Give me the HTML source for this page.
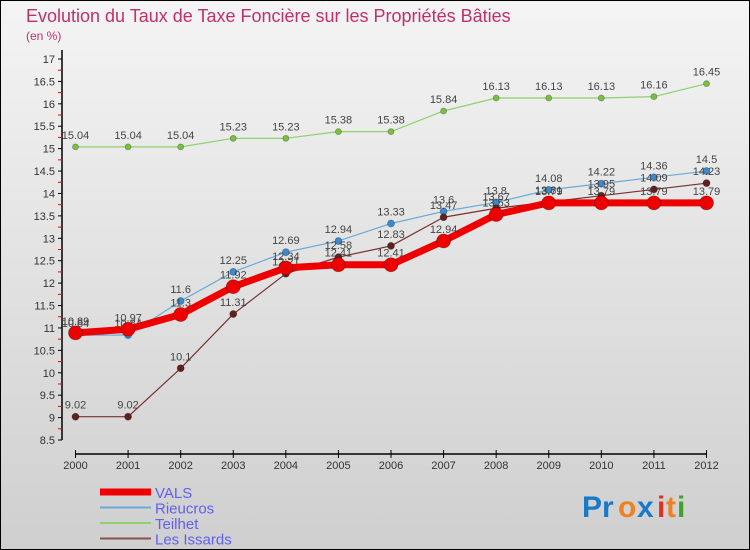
<!DOCTYPE html>
<html><head><meta charset="utf-8"><style>
body{margin:0;width:750px;height:550px;overflow:hidden}
svg{display:block;font-family:"Liberation Sans",sans-serif}
</style></head><body>
<svg id="c" width="750" height="550" xmlns="http://www.w3.org/2000/svg">
<defs><linearGradient id="bg" x1="0" y1="0" x2="0" y2="1"><stop offset="0" stop-color="#f4f4f4"/><stop offset="1" stop-color="#cfcfcf"/></linearGradient></defs>
<rect x="0.5" y="0.5" width="749" height="549" fill="url(#bg)" stroke="#000"/>
<text x="26" y="22" font-size="18" fill="#c0306a">Evolution du Taux de Taxe Foncière sur les Propriétés Bâties</text>
<text x="26" y="40" font-size="12" fill="#c0306a">(en %)</text>
<g id="axes"></g><g id="series"></g><g id="legend"></g>
<g font-size="30" font-weight="bold">
<text x="582" y="517" fill="#1a7ac8">Pr</text><text x="618" y="517" fill="#f08020">o</text><text x="637" y="517" fill="#1a7ac8">x</text><text x="657" y="517" fill="#e03020">i</text><text x="666" y="517" fill="#f08020">t</text><text x="677" y="517" fill="#40a030">i</text>
</g>
</svg>
<script>
const years=[2000,2001,2002,2003,2004,2005,2006,2007,2008,2009,2010,2011,2012];
const vals=[10.89,10.97,11.3,11.92,12.34,12.41,12.41,12.94,13.53,13.79,13.79,13.79,13.79];
const rieucros=[10.84,10.84,11.6,12.25,12.69,12.94,13.33,13.6,13.8,14.08,14.22,14.36,14.5];
const teilhet=[15.04,15.04,15.04,15.23,15.23,15.38,15.38,15.84,16.13,16.13,16.13,16.16,16.45];
const issards=[9.02,9.02,10.1,11.31,12.21,12.58,12.83,13.47,13.67,13.81,13.95,14.09,14.23];
const yTicks=[8.5,9,9.5,10,10.5,11,11.5,12,12.5,13,13.5,14,14.5,15,15.5,16,16.5,17];
const NS="http://www.w3.org/2000/svg";
const X=i=>75.5+i*(631/12);
const Y=v=>440-(v-8.5)*(381/8.5);
function mk(p,t,a){const e=document.createElementNS(NS,t);for(const k in a)e.setAttribute(k,a[k]);p.appendChild(e);return e;}
const ax=document.getElementById('axes');
let l=mk(ax,'line',{x1:62,y1:50,x2:62,y2:440,stroke:'#000','stroke-width':1.5});


l=mk(ax,'line',{x1:75,y1:454,x2:707,y2:454,stroke:'#000','stroke-width':1.5});


yTicks.forEach(v=>{
 mk(ax,'line',{x1:58,y1:Y(v),x2:62,y2:Y(v),stroke:'#000'});
 mk(ax,'line',{x1:58,y1:Y(v+0.25),x2:62,y2:Y(v+0.25),stroke:v<17?'#e00':'none'});
 const t=mk(ax,'text',{x:55,y:Y(v)+4,'text-anchor':'end','font-size':11,fill:'#333'});t.textContent=v;
 
 
});
years.forEach((y,i)=>{
 mk(ax,'line',{x1:X(i),y1:450,x2:X(i),y2:458,stroke:'#000'});
 const t=mk(ax,'text',{x:X(i),y:469,'text-anchor':'middle','font-size':11,fill:'#333'});t.textContent=y;
 
 
});
const sg=document.getElementById('series');
function series(name,data,color,w,r,dot){
 const g=mk(sg,'g',{});
 
 
 mk(g,'polyline',{points:data.map((v,i)=>X(i)+','+Y(v)).join(' '),fill:'none',stroke:color,'stroke-width':w,'stroke-linejoin':'round'});
 data.forEach((v,i)=>{
  const c=mk(g,'circle',{cx:X(i),cy:Y(v),r:r,fill:dot,stroke:'rgba(0,0,0,0.3)','stroke-width':0.8});
  
  
  const t=mk(g,'text',{x:X(i),y:Y(v)-8,'text-anchor':'middle','font-size':11,fill:'#444'});t.textContent=v;
  
  
 });
}
series('teilhet',teilhet,'#90d070',1.2,3,'#7ac040');
series('rieucros',rieucros,'#6aaad8',1.2,3.5,'#3a8ad0');
series('issards',issards,'#7a3030',1.2,3.5,'#602020');
series('vals',vals,'#ee0000',7,7,'#ee0000');
const lg=document.getElementById('legend');
const items=[['VALS','#ee0000',7],['Rieucros','#6aaad8',2],['Teilhet','#90d070',2],['Les Issards','#8a5050',2]];
items.forEach((it,i)=>{
 const y=492+i*15.5;
 const g=mk(lg,'g',{});
 
 
 mk(g,'line',{x1:100,y1:y,x2:151,y2:y,stroke:it[1],'stroke-width':it[2]});
 const t=mk(g,'text',{x:155,y:y+6,'font-size':15,fill:'#6060f0'});t.textContent=it[0];
});
</script>
</body></html>
